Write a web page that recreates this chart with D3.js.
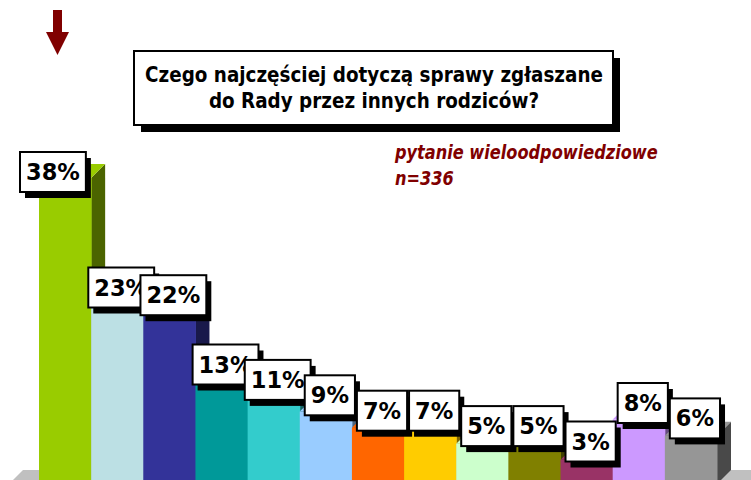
<!DOCTYPE html>
<html>
<head>
<meta charset="utf-8">
<script src="https://cdn.jsdelivr.net/npm/d3@7/dist/d3.min.js"></script>
<style>
  html, body { margin: 0; padding: 0; background: #ffffff; }
  svg { display: block; }
</style>
</head>
<body>
<svg id="chart" width="751" height="480"></svg>
<script>
// ---- data ----
const categories = ["k1","k2","k3","k4","k5","k6","k7","k8","k9","k10","k11","k12","k13"];
const values = [38, 23, 22, 13, 11, 9, 7, 7, 5, 5, 3, 8, 6];
const valueLabels = ["38%","23%","22%","13%","11%","9%","7%","7%","5%","5%","3%","8%","6%"];
const barColors = ["#99cc00","#bce0e4","#333399","#009999","#33cccc","#99ccff","#ff6600",
                   "#ffcc00","#ccffcc","#808000","#993366","#cc99ff","#969696"];
const titleLines = ["Czego najczęściej dotyczą sprawy zgłaszane", "do Rady przez innych rodziców?"];
const noteLines = ["pytanie wieloodpowiedziowe", "n=336"];

// ---- layout ----
const svg = d3.select("#chart");
const depth = 14;
const x = d3.scaleBand().domain(categories).range([39, 717]).padding(0);
const y = d3.scaleLinear().domain([0, 38]).range([484, 178]);
const labelY = d3.scaleLinear().domain([3, 38]).range([441.5, 172]);
const bw = x.bandwidth();
const FONT = "'DejaVu Sans', Verdana, sans-serif";

// floor
const fx0 = x.range()[0] - 30, fy = y(0);
svg.append("path")
  .attr("d", `M${fx0},${fy} L${fx0 + depth},${fy - depth} L${800},${fy - depth} L${800 - depth},${fy} Z`)
  .attr("fill", "#c0c0c0");

// bars
const bars = svg.append("g");
categories.forEach((c, i) => {
  const v = values[i];
  const x0 = x(c), x1 = x0 + bw, yt = y(v), yb = y(0);
  const col = barColors[i];
  const g = bars.append("g");
  g.append("path")
    .attr("d", `M${x1},${yb} L${x1},${yt} L${x1 + depth},${yt - depth} L${x1 + depth},${yb - depth} Z`)
    .attr("fill", d3.color(col).darker(2).formatHex());
  g.append("path")
    .attr("d", `M${x0},${yt} L${x1},${yt} L${x1 + depth},${yt - depth} L${x0 + depth},${yt - depth} Z`)
    .attr("fill", col);
  g.append("rect")
    .attr("x", x0).attr("y", yt).attr("width", bw + 0.5).attr("height", yb - yt)
    .attr("fill", col);
});

// value labels
const lab = svg.append("g");
categories.forEach((c, i) => {
  const g = lab.append("g");
  const t = g.append("text")
    .attr("font-family", FONT).attr("font-weight", "bold").attr("font-size", 22.5)
    .attr("text-anchor", "middle").attr("fill", "#000")
    .text(valueLabels[i]);
  const tw = t.node().getComputedTextLength();
  const w = tw + 12, h = 40;
  let cx = x(c) + bw / 2 + 4;
  // first label is pushed to the plot-area's left edge (as in the original)
  let left = i === 0 ? fx0 + 11 : cx - w / 2;
  cx = left + w / 2;
  const cy = labelY(values[i]);
  const top = cy - h / 2;
  g.insert("rect", "text").attr("x", left + 5).attr("y", top + 6).attr("width", w).attr("height", h).attr("fill", "#000");
  g.insert("rect", "text").attr("x", left).attr("y", top).attr("width", w).attr("height", h)
    .attr("fill", "#fff").attr("stroke", "#000").attr("stroke-width", 2);
  t.attr("x", cx).attr("y", cy + 8);
});

// title box
const tb = { x: 134, y: 51, w: 479, h: 74 };
svg.append("rect").attr("x", tb.x + 7).attr("y", tb.y + 7).attr("width", tb.w).attr("height", tb.h).attr("fill", "#000");
svg.append("rect").attr("x", tb.x).attr("y", tb.y).attr("width", tb.w).attr("height", tb.h)
  .attr("fill", "#fff").attr("stroke", "#000").attr("stroke-width", 2);
const titleG = svg.append("g");
const tls = titleLines.map((s, i) => titleG.append("text")
  .attr("font-family", FONT).attr("font-weight", "bold").attr("font-size", 21.5)
  .attr("text-anchor", "middle").attr("fill", "#000").text(s));
const tScale = 458 / tls[0].node().getComputedTextLength();
tls.forEach((t, i) => t.attr("transform", `translate(374,${82 + i * 26}) scale(${tScale},1)`));

// note
const noteG = svg.append("g");
const nls = noteLines.map(s => noteG.append("text")
  .attr("font-family", FONT).attr("font-weight", "bold").attr("font-style", "italic")
  .attr("font-size", 19).attr("fill", "#800000").text(s));
const nScale = 263 / nls[0].node().getComputedTextLength();
nls.forEach((t, i) => t.attr("transform", `translate(395,${159 + i * 26}) scale(${nScale},1)`));

// arrow
svg.append("path")
  .attr("d", "M53,10 H62 V32 H69 L57.5,55 L46,32 H53 Z")
  .attr("fill", "#800000");
</script>
</body>
</html>
